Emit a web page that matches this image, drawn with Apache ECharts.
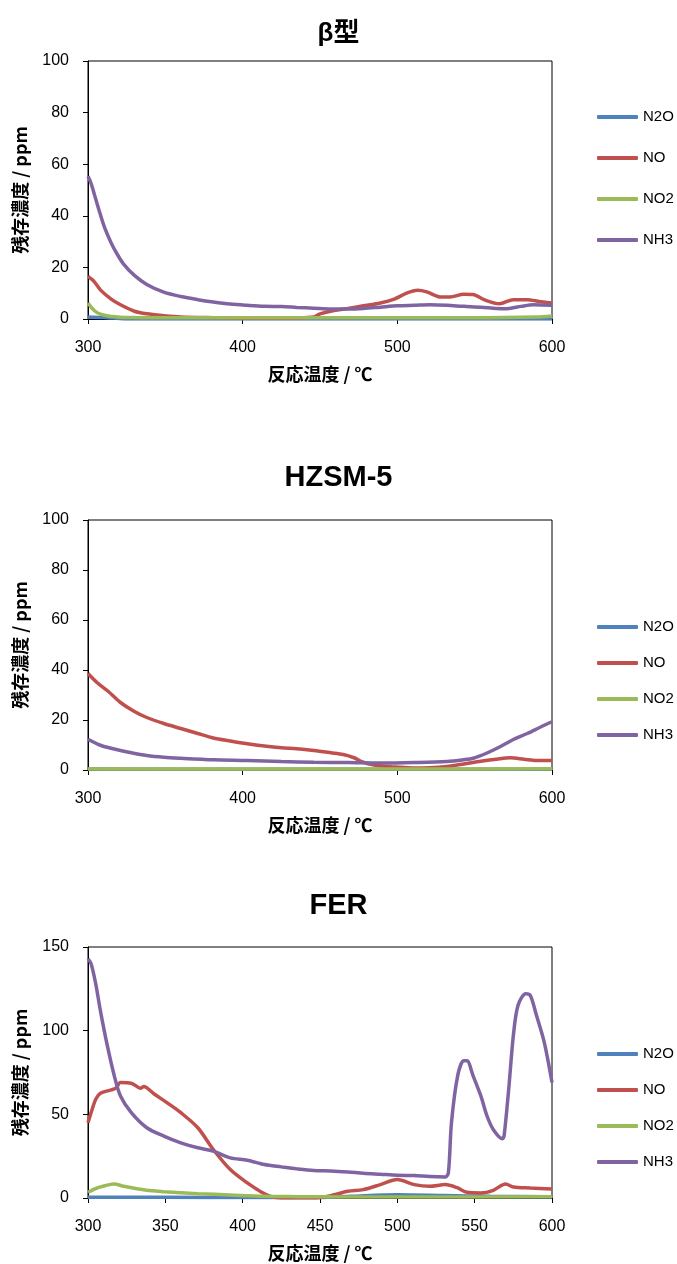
<!DOCTYPE html>
<html>
<head>
<meta charset="utf-8">
<script src="https://cdn.jsdelivr.net/npm/echarts@6/dist/echarts.min.js"></script>
<style>
html,body{margin:0;padding:0;background:#fff;}
#chart{width:677px;height:1264px;}
</style>
</head>
<body>
<div id="chart"></div>
<script>
// ---- Data ----
var chartTitles = ['β型', 'HZSM-5', 'FER'];
var seriesNames = ['N2O', 'NO', 'NO2', 'NH3'];
var seriesColors = ['#4F81BD', '#C0504D', '#9BBB59', '#8064A2'];
var xTicks = [300, 350, 400, 450, 500, 550, 600];
var yTicks100 = [0, 20, 40, 60, 80, 100];
var yTicks150 = [0, 50, 100, 150];

// β型
var betaN2O_T = [300, 310, 320, 326, 340, 400, 500, 600];
var betaN2O_V = [0.8, 0.6, 0.2, 0, 0, 0, 0, 0];
var betaNO_T = [300, 304, 308, 315, 321, 330, 338, 349, 360, 381, 403, 425, 446, 450, 459, 468, 478, 489, 498, 506, 513, 519, 528, 534, 543, 549, 556, 566, 575, 584, 592, 600];
var betaNO_V = [16.5, 14.5, 11.3, 7.7, 5.5, 3, 2, 1.3, 0.8, 0.5, 0.3, 0.3, 0.8, 2, 3.3, 4.1, 5.1, 6.2, 7.7, 10, 11.1, 10.5, 8.5, 8.5, 9.6, 9.5, 7.5, 5.9, 7.5, 7.5, 6.8, 6.2];
var betaNO2_T = [300, 304, 308, 315, 328, 360, 400, 450, 500, 550, 590, 600];
var betaNO2_V = [6.2, 3.3, 1.9, 1, 0.6, 0.5, 0.5, 0.5, 0.5, 0.5, 0.8, 1.2];
var betaNH3_T = [300, 302, 305, 308, 311, 315, 319, 323, 330, 338, 349, 360, 371, 381, 392, 403, 414, 425, 435, 446, 457, 468, 478, 489, 500, 511, 521, 532, 543, 554, 564, 571, 580, 588, 600];
var betaNH3_V = [55.3, 52.5, 46.5, 40.5, 35, 29.5, 25, 21.3, 16.9, 13.4, 10.4, 8.7, 7.5, 6.6, 5.8, 5.3, 4.9, 4.8, 4.5, 4.2, 3.9, 3.9, 4.1, 4.6, 5.1, 5.3, 5.5, 5.3, 4.9, 4.6, 4.1, 4, 4.9, 5.5, 5.3];

// HZSM-5
var hzN2O_T = [300, 400, 500, 600];
var hzN2O_V = [0.4, 0.3, 0.3, 0.3];
var hzNO_T = [300, 306, 313, 321, 330, 338, 349, 360, 371, 381, 392, 403, 414, 425, 435, 446, 457, 465, 472, 478, 485, 493, 502, 511, 521, 532, 543, 554, 564, 573, 582, 590, 600];
var hzNO_V = [38.6, 34.9, 31.5, 27, 23.4, 21, 18.6, 16.6, 14.6, 12.8, 11.6, 10.5, 9.6, 8.9, 8.5, 7.8, 6.9, 6.2, 4.9, 3.1, 2, 1.4, 1.1, 0.8, 0.9, 1.4, 2.4, 3.5, 4.3, 4.9, 4.3, 3.8, 3.8];
var hzNO2_T = [300, 400, 500, 600];
var hzNO2_V = [0.4, 0.4, 0.4, 0.5];
var hzNH3_T = [300, 308, 317, 328, 338, 349, 360, 381, 403, 425, 446, 468, 489, 511, 532, 543, 549, 558, 567, 575, 584, 593, 600];
var hzNH3_V = [12.3, 9.9, 8.4, 6.9, 5.8, 5.1, 4.7, 4.1, 3.8, 3.4, 3.1, 3, 2.8, 3, 3.4, 4.1, 4.7, 6.8, 9.5, 12.2, 14.6, 17.3, 19.3];

// FER
var ferN2O_T = [300, 350, 400, 450, 470, 500, 530, 560, 600];
var ferN2O_V = [0.4, 0.4, 0.3, 0.3, 1, 2, 1.5, 1, 0.8];
var ferNO_T = [300, 302, 305, 308, 315, 318, 321, 328, 334, 336, 343, 351, 360, 371, 381, 392, 403, 412, 418, 425, 446, 457, 468, 478, 489, 500, 511, 521, 531, 539, 545, 554, 562, 570, 575, 586, 600];
var ferNO_V = [45, 51, 59, 62.6, 64.6, 65.6, 69, 68.6, 65.6, 66.6, 62, 57, 51, 42, 29, 17, 9, 3.6, 1, 0, 0, 1.4, 4, 5, 8, 11, 8, 7, 8, 6, 3.4, 3, 4.6, 8.4, 6.6, 6, 5.4];
var ferNO2_T = [300, 306, 317, 323, 338, 349, 371, 392, 414, 435, 468, 510, 600];
var ferNO2_V = [3.4, 6, 8.4, 7, 4.6, 3.8, 2.6, 1.8, 1, 0.8, 0.6, 0.6, 0.8];
var ferNH3_T = [300, 302, 305, 308, 312.5, 317, 321, 328, 338, 349, 360, 371, 381, 392, 403, 414, 425, 435, 446, 457, 468, 478, 489, 500, 511, 521, 531, 533, 535, 539, 543, 545, 549, 554, 558, 562, 568, 569, 572, 575, 578, 583, 586, 590, 595, 600];
var ferNH3_V = [143, 140, 128, 112, 91, 73, 61, 51, 42, 37, 33, 30, 28, 24, 22.6, 20, 18.6, 17.4, 16.4, 16.2, 15.6, 14.8, 14.2, 13.6, 13.4, 12.8, 12.6, 15, 45, 73, 82, 82, 73, 61, 49, 41, 35.4, 37, 65, 97, 115, 122, 121, 109, 93, 69];

var yAxisName = '残存濃度 / ppm';
var xAxisName = '反応温度 / ℃';

// ---- Build chart ----
function pairs(t, v) { return t.map(function (x, i) { return [x, v[i]]; }); }

var panels = [
  { sets: [[betaN2O_T, betaN2O_V], [betaNO_T, betaNO_V], [betaNO2_T, betaNO2_V], [betaNH3_T, betaNH3_V]],
    ymax: 100, yint: 20, xint: 100, grid: { left: 88, top: 61, width: 464, height: 258 },
    titleTop: 16, titleSize: 26, legendTop: 108, legendGap: 23 },
  { sets: [[hzN2O_T, hzN2O_V], [hzNO_T, hzNO_V], [hzNO2_T, hzNO2_V], [hzNH3_T, hzNH3_V]],
    ymax: 100, yint: 20, xint: 100, grid: { left: 88, top: 520, width: 464, height: 250 },
    titleTop: 458, titleSize: 29, legendTop: 618, legendGap: 18 },
  { sets: [[ferN2O_T, ferN2O_V], [ferNO_T, ferNO_V], [ferNO2_T, ferNO2_V], [ferNH3_T, ferNH3_V]],
    ymax: 150, yint: 50, xint: 50, grid: { left: 88, top: 947, width: 464, height: 251 },
    titleTop: 886, titleSize: 29, legendTop: 1045, legendGap: 18 }
];

var latin = "'Liberation Sans', 'Noto Sans CJK JP', sans-serif";
var cjk = "'Noto Sans CJK JP', 'Liberation Sans', sans-serif";

var option = { animation: false, backgroundColor: '#fff', title: [], legend: [], grid: [], xAxis: [], yAxis: [], series: [] };

panels.forEach(function (p, gi) {
  option.title.push({
    text: chartTitles[gi], left: 'center', top: p.titleTop,
    textStyle: { fontFamily: latin, fontWeight: 'bold', fontSize: p.titleSize, color: '#000' }
  });
  option.grid.push({
    left: p.grid.left, top: p.grid.top, width: p.grid.width, height: p.grid.height,
    show: true, borderColor: '#000', borderWidth: 1, backgroundColor: '#fff'
  });
  option.xAxis.push({
    type: 'value', gridIndex: gi, min: 300, max: 600, interval: p.xint,
    name: xAxisName, nameLocation: 'middle', nameGap: 46,
    nameTextStyle: { fontFamily: cjk, fontWeight: 'bold', fontSize: 18, color: '#000' },
    axisLine: { show: true, onZero: false, lineStyle: { color: '#000', width: 1 } },
    axisTick: { show: true, inside: false, length: 5, lineStyle: { color: '#000' } },
    axisLabel: { fontFamily: latin, fontSize: 16, color: '#000', margin: 21 },
    splitLine: { show: false }
  });
  option.yAxis.push({
    type: 'value', gridIndex: gi, min: 0, max: p.ymax, interval: p.yint,
    name: yAxisName, nameLocation: 'middle', nameGap: 59,
    nameTextStyle: { fontFamily: cjk, fontWeight: 'bold', fontSize: 18, color: '#000' },
    axisLine: { show: true, lineStyle: { color: '#000', width: 1 } },
    axisTick: { show: true, inside: false, length: 5, lineStyle: { color: '#000' } },
    axisLabel: { fontFamily: latin, fontSize: 16, color: '#000', margin: 19 },
    splitLine: { show: false }
  });
  option.legend.push({
    orient: 'vertical', left: 597, top: p.legendTop, itemGap: p.legendGap, padding: 0,
    itemWidth: 41, itemHeight: 4, icon: 'roundRect', itemStyle: { borderWidth: 0 },
    textStyle: { fontFamily: latin, fontSize: 15, color: '#000', lineHeight: 18 },
    data: seriesNames.map(function (n, i) { return { name: n, itemStyle: { color: seriesColors[i] } }; })
  });
  p.sets.forEach(function (s, si) {
    option.series.push({
      name: seriesNames[si], type: 'line', xAxisIndex: gi, yAxisIndex: gi,
      data: pairs(s[0], s[1]), showSymbol: false, symbol: 'none', smooth: 0.3,
      color: seriesColors[si],
      lineStyle: { color: seriesColors[si], width: 3.5 },
      z: 2 + (si === 2 ? 1 : 0)
    });
  });
});

var chart = echarts.init(document.getElementById('chart'), null, { renderer: 'canvas' });
chart.setOption(option);
</script>
</body>
</html>
